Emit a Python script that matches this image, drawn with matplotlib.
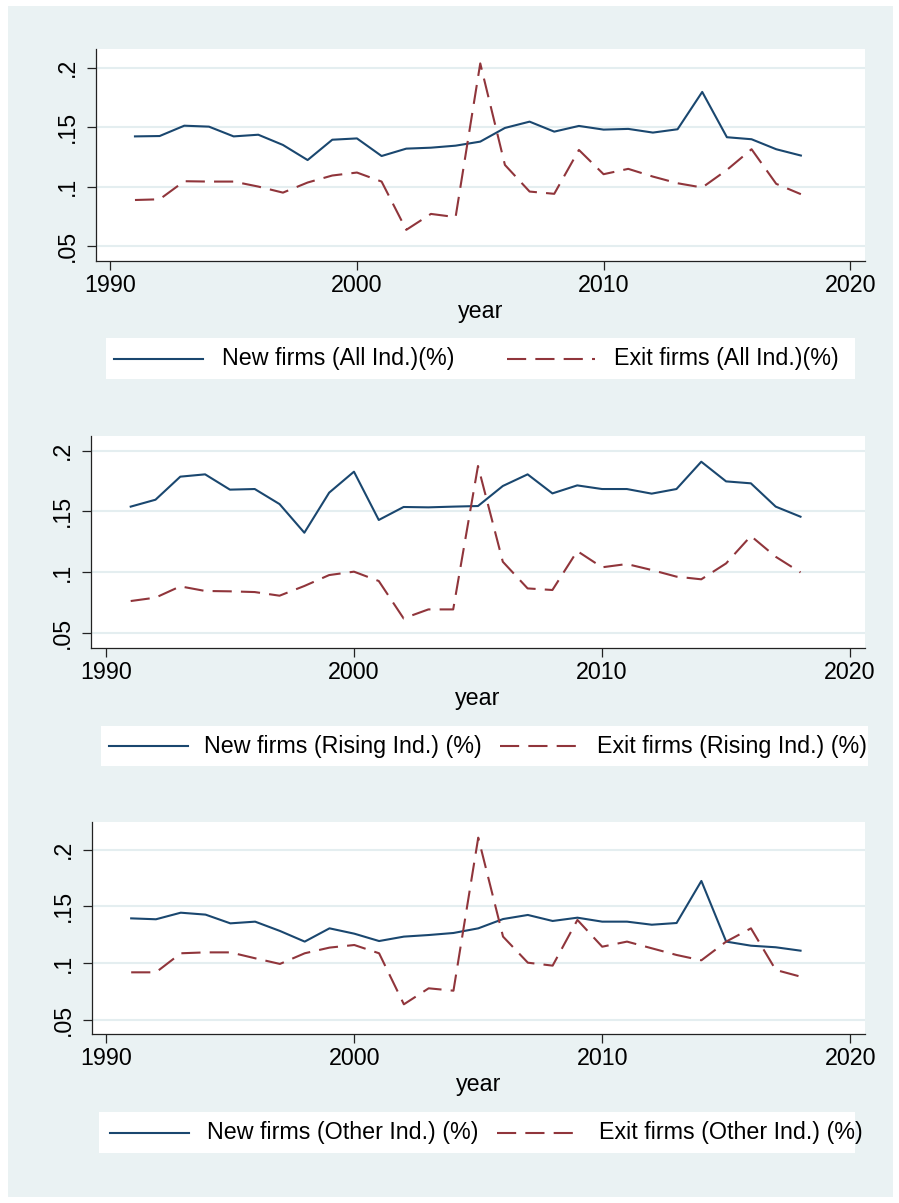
import matplotlib
matplotlib.use("Agg")
import matplotlib.pyplot as plt
from matplotlib.lines import Line2D
from matplotlib.patches import Rectangle

plt.rcParams['font.family'] = ['Liberation Sans', 'DejaVu Sans']

years = list(range(1991, 2019))

new_all = [0.1422, 0.1425, 0.1512, 0.1504, 0.1422, 0.1436, 0.1350, 0.1223, 0.1394, 0.1405,
           0.1257, 0.1319, 0.1327, 0.1344, 0.1378, 0.1493, 0.1546, 0.1462, 0.1510, 0.1479,
           0.1485, 0.1454, 0.1482, 0.1796, 0.1415, 0.1398, 0.1314, 0.1261]
exit_all = [0.0887, 0.0893, 0.1045, 0.1042, 0.1042, 0.1000, 0.0949, 0.1034, 0.1093, 0.1118,
            0.1042, 0.0636, 0.0770, 0.0743, 0.2036, 0.1182, 0.0958, 0.0939, 0.1308, 0.1104,
            0.1149, 0.1084, 0.1028, 0.0992, 0.1140, 0.1314, 0.1023, 0.0936]

new_rising = [0.1539, 0.1596, 0.1786, 0.1805, 0.1679, 0.1684, 0.1560, 0.1324, 0.1654, 0.1827,
              0.1429, 0.1536, 0.1533, 0.1539, 0.1544, 0.1709, 0.1805, 0.1648, 0.1714, 0.1684,
              0.1684, 0.1646, 0.1684, 0.1909, 0.1747, 0.1731, 0.1539, 0.1456]
exit_rising = [0.0761, 0.0789, 0.0882, 0.0844, 0.0841, 0.0835, 0.0805, 0.0885, 0.0975, 0.1003,
               0.0926, 0.0618, 0.0692, 0.0692, 0.1874, 0.1085, 0.0865, 0.0852, 0.1173, 0.1039,
               0.1066, 0.1017, 0.0962, 0.0940, 0.1071, 0.1297, 0.1126, 0.0997]

new_other = [0.1394, 0.1386, 0.1444, 0.1427, 0.1350, 0.1365, 0.1283, 0.1189, 0.1306, 0.1259,
             0.1194, 0.1233, 0.1247, 0.1265, 0.1306, 0.1388, 0.1424, 0.1371, 0.1400, 0.1365,
             0.1365, 0.1338, 0.1353, 0.1724, 0.1189, 0.1153, 0.1139, 0.1109]
exit_other = [0.0918, 0.0918, 0.1086, 0.1094, 0.1094, 0.1042, 0.0992, 0.1086, 0.1136, 0.1159,
              0.1086, 0.0636, 0.0777, 0.0756, 0.2106, 0.1233, 0.1003, 0.0977, 0.1380, 0.1144,
              0.1189, 0.1130, 0.1071, 0.1024, 0.1189, 0.1306, 0.0939, 0.0880]

legend_labels = [
    ("New firms (All Ind.)(%)", "Exit firms (All Ind.)(%)"),
    ("New firms (Rising Ind.) (%)", "Exit firms (Rising Ind.) (%)"),
    ("New firms (Other Ind.) (%)", "Exit firms (Other Ind.) (%)"),
]
x_ticks = [1990, 2000, 2010, 2020]
y_ticks = [0.05, 0.10, 0.15, 0.20]
y_ticklabels = [".05", ".1", ".15", ".2"]

NAVY = "#1A476F"
MAROON = "#90353B"
BG = "#EAF2F3"
GRID = "#E4EEF0"
FS = 16.75

W, H = 899, 1203
fig = plt.figure(figsize=(W / 100, H / 100), dpi=100)
fig.patch.set_facecolor("white")


def fx(x):
    return x / W


def fy(y):
    return 1 - y / H


# graph region background, kept beneath the plot areas
fig.patches.append(Rectangle((fx(8), fy(1197)), (893 - 8) / W, (1197 - 6) / H,
                             transform=fig.transFigure, facecolor=BG, edgecolor="none",
                             zorder=-10))

# per panel: plot box (left, right, top, bottom) in pixels, axis limits, legend geometry
panels = [
    dict(box=(96, 865, 49, 261), ylim=(0.0374, 0.2157), xlim=(1989.42, 2020.6),
         series=(new_all, exit_all),
         leg_box=(106, 855, 338, 379), keys=((114, 203), (507, 595)), texts=(222, 614)),
    dict(box=(91, 865, 436, 648), ylim=(0.0374, 0.2121), xlim=(1989.40, 2020.6),
         series=(new_rising, exit_rising),
         leg_box=(101, 868, 726, 766), keys=((109, 188), (500, 585)), texts=(204, 597)),
    dict(box=(92, 865, 822, 1034), ylim=(0.0374, 0.2244), xlim=(1989.42, 2020.6),
         series=(new_other, exit_other),
         leg_box=(99, 855, 1112, 1153), keys=((110, 189), (497, 573)), texts=(207, 599)),
]

DASH = (9.2, 4.4)

for p, labels in zip(panels, legend_labels):
    l, r, t, b = p["box"]
    ax = fig.add_axes([fx(l), fy(b), (r - l) / W, (b - t) / H])
    ax.set_facecolor("white")
    new_s, exit_s = p["series"]
    ax.plot(years, new_s, color=NAVY, lw=1.5, zorder=3)
    ax.plot(years, exit_s, color=MAROON, lw=1.5, dashes=DASH, zorder=3)
    ax.set_xlim(*p["xlim"])
    ax.set_ylim(*p["ylim"])
    ax.set_xticks(x_ticks)
    ax.set_yticks(y_ticks)
    ax.set_yticklabels(y_ticklabels)
    ax.yaxis.grid(True, color=GRID, lw=1.5, zorder=0)
    ax.set_axisbelow(True)
    for s in ("top", "right"):
        ax.spines[s].set_visible(False)
    for s in ("left", "bottom"):
        ax.spines[s].set_color("#222222")
        ax.spines[s].set_linewidth(0.9)
    ax.tick_params(axis="both", length=6.5, width=0.9, color="#222222", labelsize=FS)
    ax.tick_params(axis="x", pad=3)
    ax.tick_params(axis="y", pad=6)
    for lab in ax.get_yticklabels():
        lab.set_rotation(90)
        lab.set_va("center")
    ax.set_xlabel("year", fontsize=FS, labelpad=2)

    # legend
    lb_l, lb_r, lb_t, lb_b = p["leg_box"]
    fig.patches.append(Rectangle((fx(lb_l), fy(lb_b)), (lb_r - lb_l) / W, (lb_b - lb_t) / H,
                                 transform=fig.transFigure, facecolor="white",
                                 edgecolor="none", zorder=1))
    yc = (lb_t + lb_b) / 2
    (k1a, k1b), (k2a, k2b) = p["keys"]
    fig.lines.append(Line2D([fx(k1a), fx(k1b)], [fy(yc), fy(yc)], transform=fig.transFigure,
                            color=NAVY, lw=1.5, zorder=2))
    fig.lines.append(Line2D([fx(k2a), fx(k2b)], [fy(yc), fy(yc)], transform=fig.transFigure,
                            color=MAROON, lw=1.5, dashes=DASH, zorder=2))
    fig.text(fx(p["texts"][0]), fy(yc), labels[0], fontsize=FS, va="center", ha="left", zorder=3)
    fig.text(fx(p["texts"][1]), fy(yc), labels[1], fontsize=FS, va="center", ha="left", zorder=3)

fig.savefig("out.png", dpi=100, facecolor=fig.get_facecolor())
